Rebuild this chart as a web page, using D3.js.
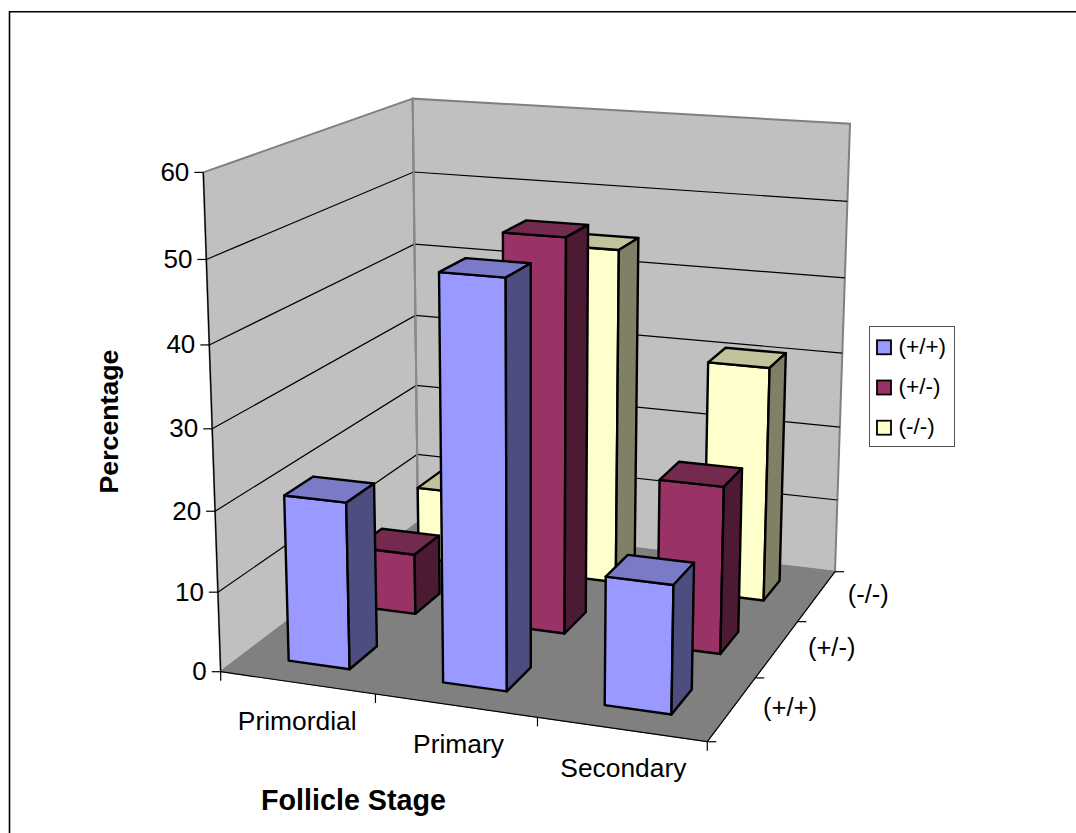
<!DOCTYPE html>
<html>
<head>
<meta charset="utf-8">
<script src="https://cdnjs.cloudflare.com/ajax/libs/d3/7.8.5/d3.min.js"></script>
<style>
html, body { margin: 0; padding: 0; background: #fff; }
svg { display: block; }
text { font-family: "Liberation Sans", Arial, sans-serif; fill: #000; }
</style>
</head>
<body>
<div class="svg_container"></div>
<script>
var stages = ["Primordial", "Primary", "Secondary"];
var genotypes = ["(+/+)", "(+/-)", "(-/-)"];
var valueTicks = [0, 10, 20, 30, 40, 50, 60];

var wildType = [20.8, 49.3, 15.6];
var heterozygous = [7.9, 50, 21.2];
var knockout = [9.9, 44.5, 30.9];
var seriesValues = [wildType, heterozygous, knockout];

var faceColors = [
    {front: "#9999ff", top: "#7a7ac8", side: "#4d4d80"},
    {front: "#993366", top: "#74294f", side: "#4d1a33"},
    {front: "#ffffcc", top: "#c2c29b", side: "#808066"}
];

const WIDTH = 1076;
const HEIGHT = 833;

// floor corners and the point the verticals run to
var floorQuad = [[220.7, 671.7], [707.3, 741.7], [835, 571.7], [418, 522.4]];
var verticalVanish = [532, 9611];
var wallLift = -0.0529;
var stageLabelNudge = [0, 3, 2];

// camera matrix columns: s, t, height, origin (homogeneous)
var camera = function (q, vp, lift) {
    var dx1 = q[1][0] - q[2][0], dx2 = q[3][0] - q[2][0], sx = q[0][0] - q[1][0] + q[2][0] - q[3][0];
    var dy1 = q[1][1] - q[2][1], dy2 = q[3][1] - q[2][1], sy = q[0][1] - q[1][1] + q[2][1] - q[3][1];
    var den = dx1 * dy2 - dx2 * dy1;
    var g = (sx * dy2 - dx2 * sy) / den;
    var h = (dx1 * sy - sx * dy1) / den;
    var a = q[1][0] - q[0][0] + g * q[1][0], b = q[3][0] - q[0][0] + h * q[3][0], c = q[0][0];
    var d = q[1][1] - q[0][1] + g * q[1][1], e = q[3][1] - q[0][1] + h * q[3][1], f = q[0][1];
    return function (s, t, z) {
        var w = g * s + h * t + 1 + lift * z;
        return [(a * s + b * t + c + lift * z * vp[0]) / w, (d * s + e * t + f + lift * z * vp[1]) / w];
    };
};

var cameraAt = camera(floorQuad, verticalVanish, wallLift);

var _xScale = d3.scaleBand().domain(stages).range([0, 1]);
var _zScale = d3.scaleBand().domain(genotypes).range([0, 1]);
var _yScale = d3.scaleLinear().domain([0, 60]).range([0, 1]);

var project = function (s, t, value) {
    return cameraAt(s, t, _yScale(value));
};

var polyPath = function (pts) {
    return "M" + pts.map(function (p) { return p[0] + "," + p[1]; }).join("L") + "Z";
};

var svg = d3.select(".svg_container").append("svg")
    .attr("width", WIDTH)
    .attr("height", HEIGHT);

var drawFrame = function () {
    svg.append("path")
        .attr("d", "M9.5,833V11.8H1076")
        .attr("fill", "none")
        .attr("stroke", "#000")
        .attr("stroke-width", 1.6);
};

var drawWalls = function () {
    var g = svg.append("g");
    var leftWall = [project(0, 0, 0), project(0, 1, 0), project(0, 1, 60), project(0, 0, 60)];
    var backWall = [project(0, 1, 0), project(1, 1, 0), project(1, 1, 60), project(0, 1, 60)];
    var floor = [project(0, 0, 0), project(1, 0, 0), project(1, 1, 0), project(0, 1, 0)];

    g.selectAll("path.wall").data([leftWall, backWall]).enter().append("path")
        .attr("class", "wall")
        .attr("d", polyPath)
        .attr("fill", "#c0c0c0")
        .attr("stroke", "#808080")
        .attr("stroke-width", 2);
    g.append("path").attr("d", polyPath(floor)).attr("fill", "#808080").attr("stroke", "#808080");

    // gridlines
    valueTicks.slice(1, -1).forEach(function (v) {
        g.append("path")
            .attr("d", d3.line()([project(0, 0, v), project(0, 1, v), project(1, 1, v)]))
            .attr("fill", "none")
            .attr("stroke", "#000")
            .attr("stroke-width", 1.2);
    });
    g.append("path")
        .attr("d", d3.line()([project(0, 1, 0), project(0, 1, 60)]))
        .attr("stroke", "#8a8a8a")
        .attr("stroke-width", 2);
};

var drawAxes = function () {
    var g = svg.append("g").attr("fill", "none").attr("stroke", "#000").attr("stroke-width", 1.2);
    var axisLine = function (pts) {
        g.append("path").attr("d", d3.line()(pts));
    };
    // value axis
    axisLine([project(0, 0, 0), project(0, 0, 60)]);
    valueTicks.forEach(function (v) {
        var p = project(0, 0, v);
        axisLine([p, [p[0] - 9, p[1]]]);
        svg.append("text")
            .attr("x", p[0] - 14)
            .attr("y", p[1] + 8.5)
            .attr("text-anchor", "end")
            .attr("font-size", 26)
            .text(v);
    });
    // category axis
    axisLine([project(0, 0, 0), project(1, 0, 0)]);
    d3.range(0, 4).forEach(function (i) {
        var p = project(i / 3, 0, 0);
        axisLine([p, [p[0], p[1] + 9]]);
    });
    stages.forEach(function (d, i) {
        var p = project(_xScale(d) + _xScale.bandwidth() / 2, 0, 0);
        svg.append("text")
            .attr("x", p[0] + stageLabelNudge[i])
            .attr("y", p[1] + 47.5)
            .attr("text-anchor", "middle")
            .attr("font-size", 26.4)
            .text(d);
    });
    // series axis
    axisLine([project(1, 0, 0), project(1, 1, 0)]);
    d3.range(0, 4).forEach(function (i) {
        var p = project(1, i / 3, 0);
        axisLine([p, [p[0] + 9, p[1]]]);
    });
    genotypes.forEach(function (d) {
        var p = project(1, _zScale(d) + _zScale.bandwidth() / 2, 0);
        svg.append("text")
            .attr("x", p[0] + 31)
            .attr("y", p[1] + 7)
            .attr("font-size", 25.5)
            .text(d);
    });
};

var drawBar = function (g, stage, genotype, value, colors) {
    var u0 = _xScale(stage) + _xScale.bandwidth() * 0.3, u1 = u0 + _xScale.bandwidth() * 0.4;
    var v0 = _zScale(genotype) + _zScale.bandwidth() * 0.3, v1 = v0 + _zScale.bandwidth() * 0.4;
    var a = project(u0, v0, 0), b = project(u1, v0, 0), c = project(u1, v1, 0);
    var e = project(u0, v0, value), f = project(u1, v0, value), h = project(u1, v1, value), k = project(u0, v1, value);
    var bar = g.append("g").attr("stroke", "#000").attr("stroke-width", 2.4).attr("stroke-linejoin", "round");
    bar.append("path").attr("d", polyPath([a, b, f, e])).attr("fill", colors.front);
    bar.append("path").attr("d", polyPath([e, f, h, k])).attr("fill", colors.top);
    bar.append("path").attr("d", polyPath([b, c, h, f])).attr("fill", colors.side);
};

var drawBars = function () {
    var g = svg.append("g");
    // back row first so the near bars sit on top
    for (var s = genotypes.length - 1; s >= 0; s--) {
        stages.forEach(function (stage, i) {
            drawBar(g, stage, genotypes[s], seriesValues[s][i], faceColors[s]);
        });
    }
};

var drawTitles = function () {
    svg.append("text")
        .attr("x", 353.5)
        .attr("y", 810)
        .attr("text-anchor", "middle")
        .attr("font-size", 28.7)
        .attr("font-weight", "bold")
        .text("Follicle Stage");
    svg.append("text")
        .attr("transform", "translate(118,421.5) rotate(-90)")
        .attr("text-anchor", "middle")
        .attr("font-size", 26.7)
        .attr("font-weight", "bold")
        .text("Percentage");
};

var drawLegend = function () {
    var legendY = d3.scalePoint().domain(genotypes).range([347.3, 427.7]);
    var g = svg.append("g");
    g.append("rect")
        .attr("x", 869.5).attr("y", 326.5)
        .attr("width", 85).attr("height", 120)
        .attr("fill", "#fff")
        .attr("stroke", "#555");
    genotypes.forEach(function (d, i) {
        g.append("rect")
            .attr("x", 877).attr("y", legendY(d) - 7)
            .attr("width", 14).attr("height", 14)
            .attr("fill", faceColors[i].front)
            .attr("stroke", "#000")
            .attr("stroke-width", 1.8);
        g.append("text")
            .attr("x", 898.5).attr("y", legendY(d) + 6.5)
            .attr("font-size", 22.5)
            .text(d);
    });
};

drawFrame();
drawWalls();
drawBars();
drawAxes();
drawTitles();
drawLegend();
</script>
</body>
</html>
